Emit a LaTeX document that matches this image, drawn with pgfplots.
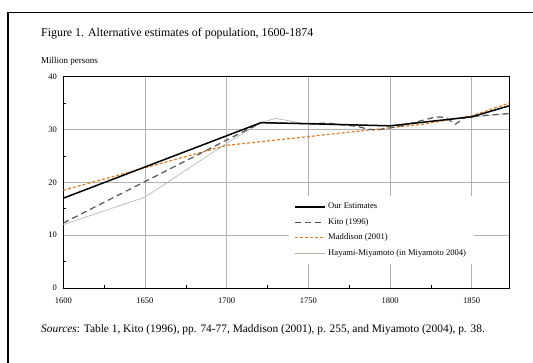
\documentclass[border=0pt]{standalone}
\usepackage{fontspec}
\setmainfont{Liberation Serif}
\usepackage{pgfplots}
\pgfplotsset{compat=1.18}
\definecolor{kito}{HTML}{555555}
\definecolor{madd}{HTML}{D9822B}
\definecolor{hm}{HTML}{A9B8A2}
\begin{document}
\begin{tikzpicture}
\useasboundingbox (0pt,0pt) rectangle (533pt,-363pt);
\fill[white] (0pt,0pt) rectangle (533pt,-363pt);
\draw[line width=1.4pt] (8pt,-363pt) -- (8pt,-12.5pt) -- (533pt,-12.5pt);
\node[anchor=west,inner sep=0pt,font=\fontsize{11.9}{13}\selectfont] at (41pt,-34pt) {Figure 1. Alternative estimates of population, 1600-1874};
\node[anchor=west,inner sep=0pt,font=\fontsize{9}{10}\selectfont] at (41pt,-61pt) {Million persons};
\node[anchor=west,inner sep=0pt,font=\fontsize{11.4}{12}\selectfont] at (41pt,-330pt) {\textit{Sources}: Table 1, Kito (1996), pp. 74-77, Maddison (2001), p. 255, and Miyamoto (2004), p. 38.};
\begin{axis}[
  at={(63.3pt,-288pt)}, anchor=south west,
  scale only axis, width=446pt, height=211.3pt,
  xmin=1600, xmax=1873, ymin=0, ymax=40,
  xtick={1600,1650,1700,1750,1800,1850},
  ytick={0,10,20,30,40},
  minor x tick num=1, minor y tick num=1,
  grid=major,
  major grid style={color=black!30, line width=0.6pt},
  tick align=inside, tick pos=left,
  major tick length=0pt, minor tick length=3pt,
  every tick/.style={black, line width=0.6pt},
  axis line style={line width=0.9pt},
  /pgf/number format/assume math mode=true,
  /pgf/number format/1000 sep={},
  ticklabel style={font=\fontsize{8.5}{9}\selectfont},
  xticklabel style={yshift=-6pt},
  yticklabel style={xshift=-3pt},
]
\addplot[color=hm, line width=0.6pt] coordinates {(1600,12.0) (1650,17.2) (1700,27.4) (1721,31.3) (1730,32.1) (1750,31.0) (1800,30.7) (1850,32.3) (1872,33.1)};
\addplot[color=madd, line width=1.2pt, dash pattern=on 3pt off 2pt] coordinates {(1600,18.5) (1700,27.0) (1820,31.0) (1850,32.6) (1873,35.0)};
\addplot[color=kito, line width=1.2pt, dash pattern=on 6pt off 4pt] coordinates {(1600,12.3) (1721,31.3) (1750,31.1) (1756,31.2) (1762,31.2) (1768,31.0) (1774,30.8) (1780,30.6) (1786,30.1) (1792,29.9) (1798,30.2) (1804,30.5) (1822,31.9) (1828,32.4) (1834,32.3) (1840,31.0) (1846,32.3) (1850,32.5) (1873,33.0)};
\addplot[color=black, line width=1.5pt] coordinates {(1600,17.0) (1721,31.3) (1750,31.1) (1800,30.7) (1850,32.4) (1873,34.5)};
\end{axis}
\begin{axis}[
  at={(63.3pt,-288pt)}, anchor=south west,
  scale only axis, width=446pt, height=211.3pt,
  xmin=1600, xmax=1873, ymin=0, ymax=40,
  hide axis,
  legend cell align=left,
  legend style={at={(rel axis cs:0.505,0.435)}, anchor=north west, draw=none, fill=white,
    font=\fontsize{8.6}{9}\selectfont, row sep=4pt, inner xsep=6pt, inner ysep=5pt},
  legend image code/.code={\draw[#1] (0pt,0pt) -- (30pt,0pt);},
]
\addlegendimage{color=black, line width=1.5pt}
\addlegendentry{Our Estimates}
\addlegendimage{color=kito, line width=1.2pt, dash pattern=on 6pt off 4pt}
\addlegendentry{Kito (1996)}
\addlegendimage{color=madd, line width=1.3pt, dash pattern=on 3pt off 2pt}
\addlegendentry{Maddison (2001)}
\addlegendimage{color=hm, line width=0.6pt}
\addlegendentry{Hayami-Miyamoto (in Miyamoto 2004)}
\end{axis}
\end{tikzpicture}
\end{document}
